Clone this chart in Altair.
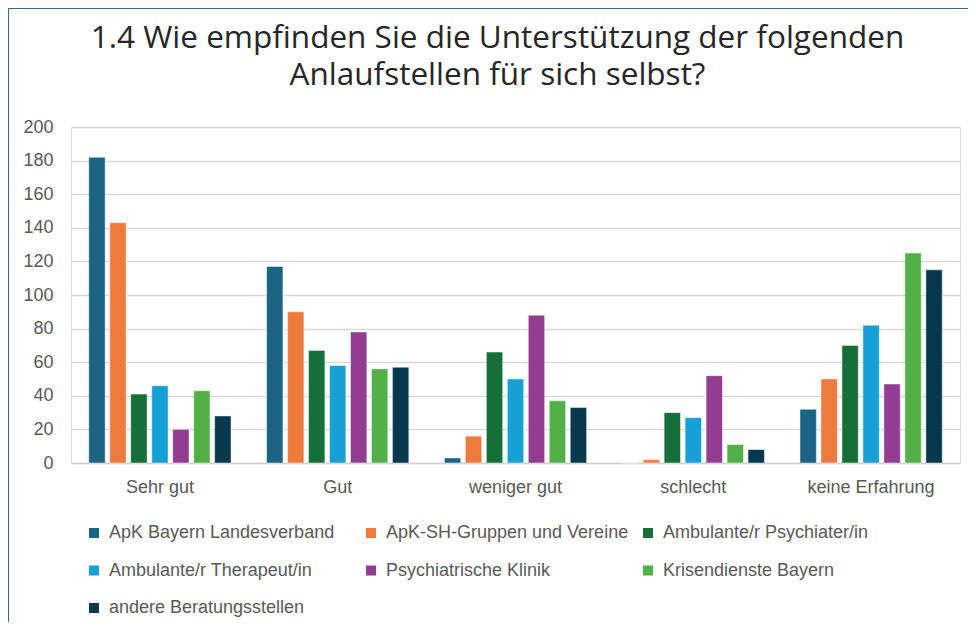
import altair as alt
import pandas as pd

categories = ["Sehr gut", "Gut", "weniger gut", "schlecht", "keine Erfahrung"]
series = [
    "ApK Bayern Landesverband",
    "ApK-SH-Gruppen und Vereine",
    "Ambulante/r Psychiater/in",
    "Ambulante/r Therapeut/in",
    "Psychiatrische Klinik",
    "Krisendienste Bayern",
    "andere Beratungsstellen",
]
colors = ["#1B6484", "#EE7A3E", "#156F38", "#17A0D6", "#923D92", "#51B148", "#07384E"]

apk_bayern = [182, 117, 3, 0, 32]
apk_sh = [143, 90, 16, 2, 50]
psychiater = [41, 67, 66, 30, 70]
therapeut = [46, 58, 50, 27, 82]
klinik = [20, 78, 88, 52, 47]
krisendienste = [43, 56, 37, 11, 125]
andere = [28, 57, 33, 8, 115]

values = [apk_bayern, apk_sh, psychiater, therapeut, klinik, krisendienste, andere]

rows = []
for s, vals in zip(series, values):
    for c, v in zip(categories, vals):
        rows.append({"Kategorie": c, "Stelle": s, "Anzahl": v})
df = pd.DataFrame(rows)

bars = alt.Chart(df).mark_bar(stroke="white", strokeWidth=0.8, strokeOpacity=0.6).encode(
    x=alt.X(
        "Kategorie:N",
        sort=categories,
        title=None,
        scale=alt.Scale(paddingInner=0.2, paddingOuter=0.1),
        axis=alt.Axis(
            labelAngle=0,
            labelFont="Liberation Sans",
            labelFontSize=18,
            labelColor="#595959",
            labelPadding=15,
            ticks=False,
            domain=True,
            domainColor="#d0d0d0",
            domainWidth=1.3,
            grid=False,
        ),
    ),
    xOffset=alt.XOffset("Stelle:N", sort=series, scale=alt.Scale(paddingInner=0.22)),
    y=alt.Y(
        "Anzahl:Q",
        title=None,
        scale=alt.Scale(domain=[0, 200]),
        axis=alt.Axis(
            values=list(range(0, 201, 20)),
            labelFont="Liberation Sans",
            labelFontSize=18,
            labelColor="#595959",
            labelPadding=18,
            ticks=False,
            domain=False,
            grid=True,
            gridColor="#d9d9d9",
            gridWidth=1.3,
        ),
    ),
    color=alt.Color(
        "Stelle:N",
        sort=series,
        scale=alt.Scale(domain=series, range=colors),
        legend=alt.Legend(
            title=None,
            orient="none",
            legendX=14,
            legendY=397,
            direction="horizontal",
            columns=3,
            gridAlign="all",
            columnPadding=10,
            rowPadding=19.5,
            symbolType="square",
            symbolSize=100,
            symbolStrokeWidth=0,
            labelFont="Liberation Sans",
            labelFontSize=18,
            labelColor="#595959",
            labelOffset=6,
            labelLimit=400,
        ),
    ),
)

border_top = alt.Chart(df).mark_rule(color="#2a6f8f", strokeWidth=1.5).encode(
    x=alt.value(-64), x2=alt.value(905), y=alt.value(-119.5)
)
border_left = alt.Chart(df).mark_rule(color="#2a6f8f", strokeWidth=1.5).encode(
    x=alt.value(-63.5), y=alt.value(-120), y2=alt.value(500)
)

chart = (
    alt.layer(bars, border_top, border_left)
    .properties(
        width=889,
        height=336,
        padding={"left": 63, "top": 119, "right": 8, "bottom": 159},
        autosize=alt.AutoSizeParams(type="none"),
        title=alt.TitleParams(
            text=["1.4 Wie empfinden Sie die Unterstützung der folgenden", "Anlaufstellen für sich selbst?"],
            font="Open Sans",
            fontSize=31.5,
            fontWeight="normal",
            color="#262626",
            anchor="middle",
            lineHeight=37,
            dx=-18,
            dy=105,
            offset=20,
        ),
    )
    .configure_view(stroke=None)
    .configure(background="white")
)

chart.save("out.html", embed_options={"renderer": "svg", "actions": False})
